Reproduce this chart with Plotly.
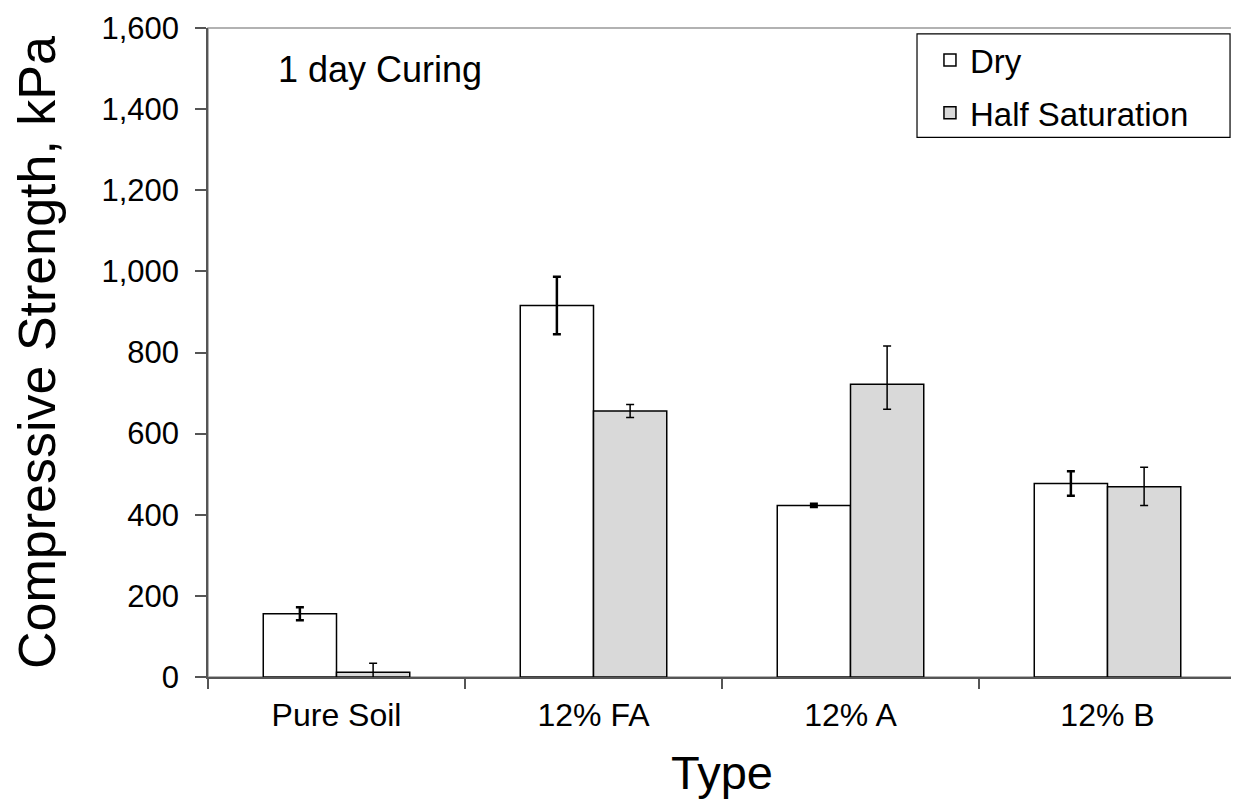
import plotly.graph_objects as go

categories = ["Pure Soil", "12% FA", "12% A", "12% B"]
dry = [156, 916, 423, 477]
dry_err_plus = [16, 71, 4, 30]
dry_err_minus = [16, 71, 4, 30]
half = [12, 656, 722, 469]
half_err_plus = [22, 16, 94, 48]
half_err_minus = [22, 16, 62, 46]
y_ticks = [0, 200, 400, 600, 800, 1000, 1200, 1400, 1600]

FONT = "Arial, Liberation Sans, sans-serif"

fig = go.Figure()
fig.add_trace(go.Bar(
    name="Dry", x=categories, y=dry, legendgroup="a",
    marker=dict(color="white", line=dict(color="black", width=1.5)),
    error_y=dict(type="data", array=dry_err_plus, arrayminus=dry_err_minus,
                 color="black", thickness=2.5, width=4),
))
fig.add_trace(go.Bar(
    name="Half Saturation", x=categories, y=half, legendgroup="b",
    marker=dict(color="#d9d9d9", line=dict(color="black", width=1.5)),
    error_y=dict(type="data", array=half_err_plus, arrayminus=half_err_minus,
                 color="black", thickness=1.5, width=4),
))

fig.update_layout(
    width=1231, height=791,
    margin=dict(l=200, r=3, t=16, b=122),
    paper_bgcolor="white", plot_bgcolor="white",
    barmode="group", bargap=0.43, bargroupgap=0,
    font=dict(family=FONT, color="black"),
    showlegend=True,
    legend=dict(
        x=0.7023, y=0.9939, xanchor="left", yanchor="top",
        bgcolor="rgba(0,0,0,0)", borderwidth=0,
        font=dict(size=33, family=FONT),
        tracegroupgap=7, traceorder="grouped",
    ),
    shapes=[
        dict(type="rect", xref="paper", yref="paper", x0=0, x1=1, y0=0, y1=1,
             line=dict(color="#999999", width=1.5), layer="below"),
        dict(type="rect", xref="paper", yref="paper", x0=0.6897, x1=0.9942,
             y0=0.8315, y1=0.9908, line=dict(color="black", width=1.2),
             fillcolor="white", layer="below"),
    ],
    annotations=[dict(text="1 day Curing", xref="paper", yref="paper",
                      x=0.066, y=0.936, xanchor="left", yanchor="middle",
                      showarrow=False, font=dict(size=36, family=FONT))],
)
fig.update_xaxes(
    title=dict(text="Type", font=dict(size=47, family=FONT), standoff=24),
    tickfont=dict(size=32, family=FONT),
    showline=True, linecolor="#555555", linewidth=1.5,
    ticks="outside", tickson="boundaries", ticklen=10, tickcolor="#555555", tickwidth=1.5,
    showgrid=False, zeroline=False,
    ticklabelstandoff=9,
)
fig.update_yaxes(
    title=dict(text="Compressive Strength, kPa", font=dict(size=52, family=FONT), standoff=42),
    range=[0, 1600], tickvals=y_ticks, tickformat=",",
    tickfont=dict(size=31, family=FONT),
    showline=True, linecolor="#555555", linewidth=1.5,
    ticks="outside", ticklen=11, tickcolor="#555555", tickwidth=1.5,
    showgrid=False, zeroline=False,
    ticklabelstandoff=10, ticklabeloverflow="allow",
)

fig.write_html("out.html")
